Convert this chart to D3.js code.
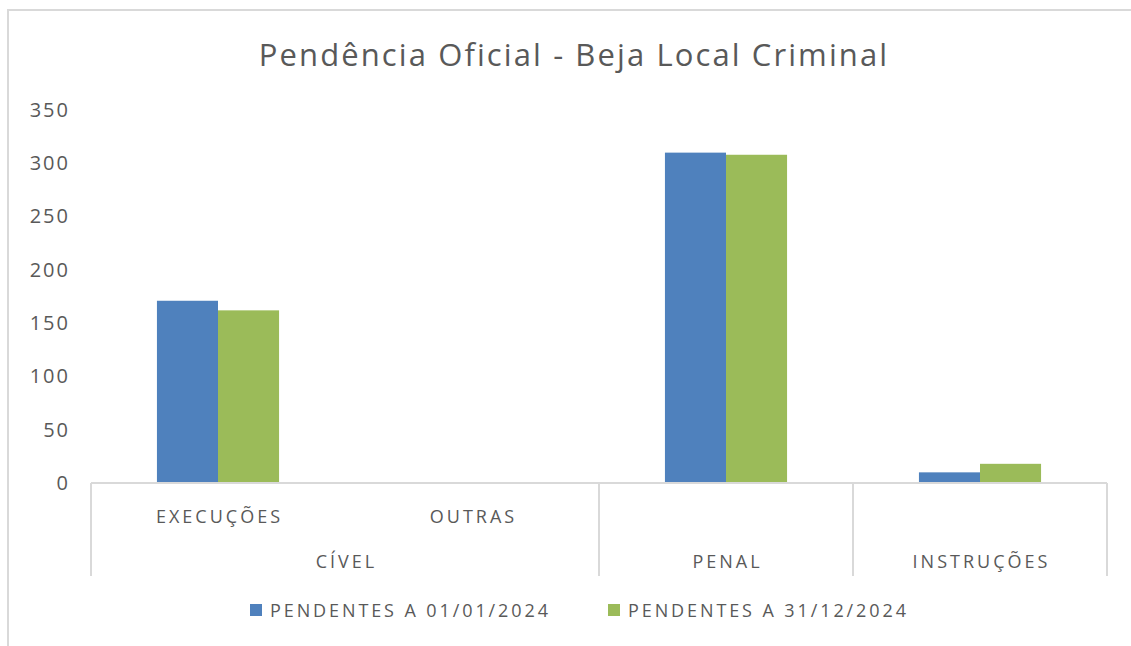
<!DOCTYPE html>
<html lang="pt">
  <head>
    <meta charset="UTF-8" />
    <title>Pendência Oficial - Beja Local Criminal</title>
    <script src="https://cdn.jsdelivr.net/npm/d3@7"></script>
    <style>
      body { margin: 0; background: #fff; }
      svg { display: block; }
      text { font-family: "Open Sans", "Noto Sans", sans-serif; fill: #595959; }
    </style>
  </head>
  <body>
    <svg width="1131" height="646"></svg>
    <script>
      const title = "Pendência Oficial - Beja Local Criminal";
      const groups = ["CÍVEL", "CÍVEL", "PENAL", "INSTRUÇÕES"];
      const subcats = ["EXECUÇÕES", "OUTRAS", "", ""];
      const seriesNames = ["PENDENTES A 01/01/2024", "PENDENTES A 31/12/2024"];
      const pendInicio = [171, 0, 310, 10];
      const pendFim = [162, 0, 308, 18];
      const yTicks = [0, 50, 100, 150, 200, 250, 300, 350];
      const colors = ["#4f81bd", "#9bbb59"];

      const svg = d3.select("svg");
      const grid = "#d9d9d9";

      // chart frame (cut off at right / bottom like the screenshot)
      svg.append("path")
        .attr("d", "M8,646 L8,10 L1131,10")
        .attr("fill", "none").attr("stroke", grid).attr("stroke-width", 2);

      svg.append("text")
        .attr("x", 574).attr("y", 66)
        .attr("text-anchor", "middle")
        .attr("font-size", 31)
        .attr("letter-spacing", 2.1)
        .text(title);

      const left = 91, right = 1107, y0 = 483, yTop = 110;
      const idx = d3.range(groups.length);
      const x0 = d3.scaleBand().domain(idx).range([left, right]);
      const x1 = d3.scaleBand().domain([0, 1]).range([0, x0.bandwidth()])
        .paddingInner(0).paddingOuter(1.08);
      const y = d3.scaleLinear().domain([0, 350]).range([y0, yTop]);

      // y axis labels (no axis line in the original)
      const yAxis = d3.axisLeft(y).tickValues(yTicks).tickSize(0).tickPadding(0);
      const ya = svg.append("g").attr("transform", "translate(70,0)").call(yAxis);
      ya.select(".domain").remove();
      ya.selectAll("text")
        .attr("font-size", 20)
        .attr("letter-spacing", 2)
        .attr("fill", "#595959")
        .style("font-family", '"Open Sans", "Noto Sans", sans-serif');

      const series = [pendInicio, pendFim];
      series.forEach((vals, s) => {
        svg.append("g").selectAll("rect")
          .data(idx)
          .join("rect")
          .attr("x", i => x0(i) + x1(s))
          .attr("width", x1.bandwidth())
          .attr("y", i => y(vals[i]))
          .attr("height", i => y0 - y(vals[i]))
          .attr("fill", colors[s]);
      });

      // category axis line
      svg.append("line")
        .attr("x1", left).attr("x2", right).attr("y1", y0).attr("y2", y0)
        .attr("stroke", grid).attr("stroke-width", 2);

      // group dividers
      const bounds = [];
      idx.forEach(i => { if (i === 0 || groups[i] !== groups[i - 1]) bounds.push(x0(i)); });
      bounds.push(right);
      svg.append("g").selectAll("line")
        .data(bounds)
        .join("line")
        .attr("x1", d => d).attr("x2", d => d)
        .attr("y1", y0).attr("y2", 576)
        .attr("stroke", grid).attr("stroke-width", 2);

      // inner labels
      svg.append("g").selectAll("text")
        .data(idx.filter(i => subcats[i] !== ""))
        .join("text")
        .attr("x", i => x0(i) + x0.bandwidth() / 2 + 1.5)
        .attr("y", 523)
        .attr("text-anchor", "middle")
        .attr("font-size", 18)
        .attr("letter-spacing", 3)
        .text(i => subcats[i]);

      // outer group labels
      const groupNames = Array.from(new Set(groups));
      svg.append("g").selectAll("text")
        .data(groupNames)
        .join("text")
        .attr("x", g => {
          const members = idx.filter(i => groups[i] === g);
          return (x0(members[0]) + x0(members[members.length - 1]) + x0.bandwidth()) / 2 + 1.5;
        })
        .attr("y", 568)
        .attr("text-anchor", "middle")
        .attr("font-size", 18)
        .attr("letter-spacing", 3)
        .text(g => g);

      // legend
      const legX = [250, 608];
      const leg = svg.append("g").selectAll("g")
        .data(seriesNames)
        .join("g")
        .attr("transform", (d, i) => `translate(${legX[i]},604)`);
      leg.append("rect").attr("width", 12).attr("height", 12).attr("fill", (d, i) => colors[i]);
      leg.append("text").attr("x", 20).attr("y", 13).attr("font-size", 18)
        .attr("letter-spacing", 2.9).text(d => d);
    </script>
  </body>
</html>
